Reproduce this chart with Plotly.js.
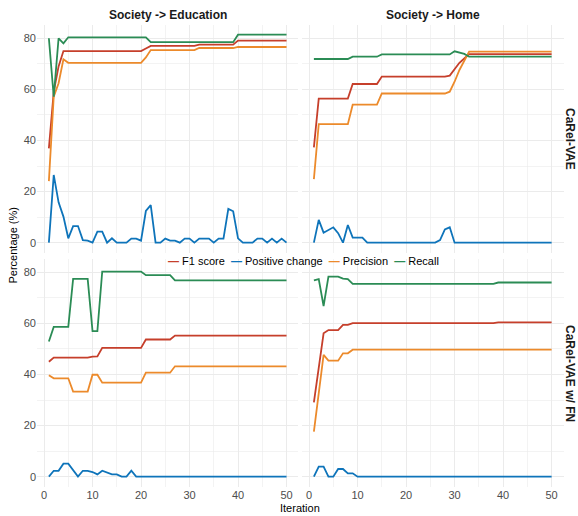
<!DOCTYPE html>
<html>
<head>
<meta charset="utf-8">
<script src="https://cdn.plot.ly/plotly-3.0.1.min.js"></script>
<style>
html,body{margin:0;padding:0;background:#fff;}
#chart{width:578px;height:516px;}
</style>
</head>
<body>
<div id="chart"></div>
<script>
// ---------- data ----------
const iterations = [1,2,3,4,5,6,7,8,9,10,11,12,13,14,15,16,17,18,19,20,21,22,23,24,25,26,27,28,29,30,31,32,33,34,35,36,37,38,39,40,41,42,43,44,45,46,47,48,49,50];

const seriesNames = ["F1 score", "Positive change", "Precision", "Recall"];
const seriesColors = ["#C63F2B", "#0E74BA", "#EC8A2B", "#2B8C55"];

const columnLabels = ["Society -> Education", "Society -> Home"];
const rowLabels = ["CaRel-VAE", "CaRel-VAE w/ FN"];

// CaRel-VAE, Society -> Education
const eduF1 = [36.9,59,69,75,75,75,75,75,75,75,75,75,75,75,75,75,75,75,75,75,76,77,77,77,77,77,77,77,77,77,77,77.5,77.5,77.5,77.5,77.5,77.5,77.5,77.5,79.1,79.1,79.1,79.1,79.1,79.1,79.1,79.1,79.1,79.1,79.1];
const eduPos = [0,26.5,15.8,10.2,1.7,6.5,6.5,1.0,0.8,0,4.3,4.3,0,1.7,0,0,0,1.6,1.6,0.8,12.4,14.7,0,0,1.6,0.8,0.8,0,1.6,1.6,0,1.6,1.6,1.6,0,1.6,1.6,13.2,12.3,1.7,0,0,0,1.6,1.6,0,1.6,0,1.6,0];
const eduPrec = [24.1,57.1,62.4,71.8,70.4,70.4,70.4,70.4,70.4,70.4,70.4,70.4,70.4,70.4,70.4,70.4,70.4,70.4,70.4,70.4,72.5,75.4,75.4,75.4,75.4,75.4,75.4,75.4,75.4,75.4,75.4,76.2,76.2,76.2,76.2,76.2,76.2,76.2,76.2,76.6,76.6,76.6,76.6,76.6,76.6,76.6,76.6,76.6,76.6,76.6];
const eduRec = [80,57.1,80,78,80.4,80.4,80.4,80.4,80.4,80.4,80.4,80.4,80.4,80.4,80.4,80.4,80.4,80.4,80.4,80.4,80.4,78.5,78.5,78.5,78.5,78.5,78.5,78.5,78.5,78.5,78.5,78.5,78.5,78.5,78.5,78.5,78.5,78.5,78.5,81.4,81.4,81.4,81.4,81.4,81.4,81.4,81.4,81.4,81.4,81.4];

// CaRel-VAE, Society -> Home
const homeF1 = [37.3,56.4,56.4,56.4,56.4,56.4,56.4,56.4,62.1,62.1,62.1,62.1,62.1,62.1,65.0,65.0,65.0,65.0,65.0,65.0,65.0,65.0,65.0,65.0,65.0,65.0,65.0,65.0,65.4,67.8,70.4,72.1,73.8,73.8,73.8,73.8,73.8,73.8,73.8,73.8,73.8,73.8,73.8,73.8,73.8,73.8,73.8,73.8,73.8,73.8];
const homePos = [0,8.9,3.9,5.0,6.0,3.7,0,6.9,2.0,2.0,2.0,0,0,0,0,0,0,0,0,0,0,0,0,0,0,0,1.0,5.2,6.0,0,0,0,0,0,0,0,0,0,0,0,0,0,0,0,0,0,0,0,0,0];
const homePrec = [24.9,46.4,46.4,46.4,46.4,46.4,46.4,46.4,54.0,54.0,54.0,54.0,54.0,54.0,58.4,58.4,58.4,58.4,58.4,58.4,58.4,58.4,58.4,58.4,58.4,58.4,58.4,58.4,59.1,63.0,67.6,71.5,74.8,74.8,74.8,74.8,74.8,74.8,74.8,74.8,74.8,74.8,74.8,74.8,74.8,74.8,74.8,74.8,74.8,74.8];
const homeRec = [71.9,71.9,71.9,71.9,71.9,71.9,71.9,71.9,72.8,72.8,72.8,72.8,72.8,72.8,73.7,73.7,73.7,73.7,73.7,73.7,73.7,73.7,73.7,73.7,73.7,73.7,73.7,73.7,73.7,74.9,74.4,73.9,72.8,72.8,72.8,72.8,72.8,72.8,72.8,72.8,72.8,72.8,72.8,72.8,72.8,72.8,72.8,72.8,72.8,72.8];

// CaRel-VAE w/ FN, Society -> Education
const fnEduF1 = [45.0,46.6,46.6,46.6,46.6,46.6,46.6,46.6,46.6,47.0,47.1,50.4,50.4,50.4,50.4,50.4,50.4,50.4,50.4,50.4,53.7,53.7,53.7,53.7,53.7,53.7,55.2,55.2,55.2,55.2,55.2,55.2,55.2,55.2,55.2,55.2,55.2,55.2,55.2,55.2,55.2,55.2,55.2,55.2,55.2,55.2,55.2,55.2,55.2,55.2];
const fnEduPos = [0,2.3,2.3,5.1,5.1,2.6,0,2.3,2.3,1.8,0.9,2.3,1.7,0.9,0.9,0,0,2.3,0,0,0,0,0,0,0,0,0,0,0,0,0,0,0,0,0,0,0,0,0,0,0,0,0,0,0,0,0,0,0,0];
const fnEduPrec = [39.7,38.5,38.5,38.5,38.5,33.3,33.3,33.3,33.3,39.9,39.9,36.8,36.8,36.8,36.8,36.8,36.8,36.8,36.8,36.8,40.7,40.7,40.7,40.7,40.7,40.7,43.2,43.2,43.2,43.2,43.2,43.2,43.2,43.2,43.2,43.2,43.2,43.2,43.2,43.2,43.2,43.2,43.2,43.2,43.2,43.2,43.2,43.2,43.2,43.2];
const fnEduRec = [52.9,58.6,58.6,58.6,58.6,77.4,77.4,77.4,77.4,57.0,57.0,80.3,80.3,80.3,80.3,80.3,80.3,80.3,80.3,80.3,78.9,78.9,78.9,78.9,78.9,78.9,76.8,76.8,76.8,76.8,76.8,76.8,76.8,76.8,76.8,76.8,76.8,76.8,76.8,76.8,76.8,76.8,76.8,76.8,76.8,76.8,76.8,76.8,76.8,76.8];

// CaRel-VAE w/ FN, Society -> Home
const fnHomeF1 = [29.1,43.1,56.1,57.4,57.4,57.4,59.4,59.4,60.1,60.1,60.1,60.1,60.1,60.1,60.1,60.1,60.1,60.1,60.1,60.1,60.1,60.1,60.1,60.1,60.1,60.1,60.1,60.1,60.1,60.1,60.1,60.1,60.1,60.1,60.1,60.1,60.1,60.1,60.4,60.4,60.4,60.4,60.4,60.4,60.4,60.4,60.4,60.4,60.4,60.4];
const fnHomePos = [0,3.9,3.9,0,0,3.0,3.0,1.3,1.3,0,0,0,0,0,0,0,0,0,0,0,0,0,0,0,0,0,0,0,0,0,0,0,0,0,0,0,0,0,0,0,0,0,0,0,0,0,0,0,0,0];
const fnHomePrec = [17.6,32.6,47.7,45.4,45.4,45.4,48.3,48.3,49.7,49.7,49.7,49.7,49.7,49.7,49.7,49.7,49.7,49.7,49.7,49.7,49.7,49.7,49.7,49.7,49.7,49.7,49.7,49.7,49.7,49.7,49.7,49.7,49.7,49.7,49.7,49.7,49.7,49.7,49.7,49.7,49.7,49.7,49.7,49.7,49.7,49.7,49.7,49.7,49.7,49.7];
const fnHomeRec = [76.8,77.3,66.8,78.3,78.3,78.3,77.5,77.3,75.5,75.5,75.5,75.5,75.5,75.5,75.5,75.5,75.5,75.5,75.5,75.5,75.5,75.5,75.5,75.5,75.5,75.5,75.5,75.5,75.5,75.5,75.5,75.5,75.5,75.5,75.5,75.5,75.5,75.5,76.0,76.0,76.0,76.0,76.0,76.0,76.0,76.0,76.0,76.0,76.0,76.0];

const xTicks = [0,10,20,30,40,50];
const yTicks = [0,20,40,60,80];

// ---------- build ----------
const panels = [
  {ax:"", series:[eduF1, eduPos, eduPrec, eduRec]},
  {ax:"2", series:[homeF1, homePos, homePrec, homeRec]},
  {ax:"3", series:[fnEduF1, fnEduPos, fnEduPrec, fnEduRec]},
  {ax:"4", series:[fnHomeF1, fnHomePos, fnHomePrec, fnHomeRec]}
];

const traces = [];
panels.forEach(p => {
  p.series.forEach((vals, k) => {
    traces.push({
      type: "scatter", mode: "lines",
      x: iterations, y: vals,
      name: seriesNames[k],
      line: {color: seriesColors[k], width: 1.8},
      xaxis: "x" + p.ax, yaxis: "y" + p.ax,
      showlegend: false, hoverinfo: "skip"
    });
  });
});

const W = 578, H = 516;
const colDom = [[37/W, 298.4/W], [302/W, 563.5/W]];
const rowDom = [[1-253/H, 1-25.4/H], [1-487/H, 1-259.4/H]];

const FONT = "Liberation Sans, Arial, Helvetica, sans-serif";
const grid = "#ebebeb";

function xa(col, anchor, showLabels) {
  return {
    domain: colDom[col], range: [-1.45, 52.45], anchor: anchor,
    tickmode: "array", tickvals: xTicks,
    ticktext: xTicks.map(v => showLabels ? String(v) : ""),
    showticklabels: showLabels, ticks: "", zeroline: false, showline: false,
    gridcolor: grid, gridwidth: 1,
    minor: {tickmode: "array", tickvals: [5,15,25,35,45], showgrid: true, gridcolor: grid, gridwidth: 0.6, ticks: ""},
    tickfont: {family: FONT, size: 11, color: "#4d4d4d"}
  };
}
function ya(row, anchor, showLabels) {
  return {
    domain: rowDom[row], range: [-4.05, 85.05], anchor: anchor,
    tickmode: "array", tickvals: yTicks,
    ticktext: yTicks.map(v => showLabels ? String(v) : ""),
    showticklabels: showLabels, ticks: "", zeroline: false, showline: false,
    gridcolor: grid, gridwidth: 1,
    minor: {tickmode: "array", tickvals: [10,30,50,70], showgrid: true, gridcolor: grid, gridwidth: 0.6, ticks: ""},
    tickfont: {family: FONT, size: 11, color: "#4d4d4d"}
  };
}

const legendText = seriesNames.map((n, k) =>
  `<span style="color:${seriesColors[k]}"><b>—</b></span> ${n}`).join("&nbsp;&nbsp;");

const annotations = [
  {text: "<b>" + columnLabels[0] + "</b>", x: (colDom[0][0]+colDom[0][1])/2, y: 1-15/H},
  {text: "<b>" + columnLabels[1] + "</b>", x: (colDom[1][0]+colDom[1][1])/2, y: 1-15/H},
  {text: "<b>" + rowLabels[0] + "</b>", x: 570/W, y: 1-139/H, textangle: 90},
  {text: "<b>" + rowLabels[1] + "</b>", x: 570/W, y: 1-373/H, textangle: 90},
  {text: "Iteration", x: 300/W, y: 1-508/H, font: {family: FONT, size: 11, color: "#000"}},
  {text: "Percentage (%)", x: 13/W, y: 1-245.5/H, textangle: -90, font: {family: FONT, size: 11, color: "#000"}},
  {text: legendText, x: 303.5/W, y: 1-261/H, font: {family: FONT, size: 11, color: "#000"}}
].map(a => Object.assign({
  xref: "paper", yref: "paper", showarrow: false,
  xanchor: "center", yanchor: "middle",
  font: {family: FONT, size: 12, color: "#1a1a1a"}
}, a));

const layout = {
  width: W, height: H,
  margin: {l: 0, r: 0, t: 0, b: 0},
  paper_bgcolor: "#fff", plot_bgcolor: "#fff",
  showlegend: false,
  font: {family: FONT},
  xaxis: xa(0, "y", false), yaxis: ya(0, "x", true),
  xaxis2: xa(1, "y2", false), yaxis2: ya(0, "x2", false),
  xaxis3: xa(0, "y3", true), yaxis3: ya(1, "x3", true),
  xaxis4: xa(1, "y4", true), yaxis4: ya(1, "x4", false),
  annotations: annotations
};

Plotly.newPlot("chart", traces, layout, {staticPlot: true, displayModeBar: false});
</script>
</body>
</html>
